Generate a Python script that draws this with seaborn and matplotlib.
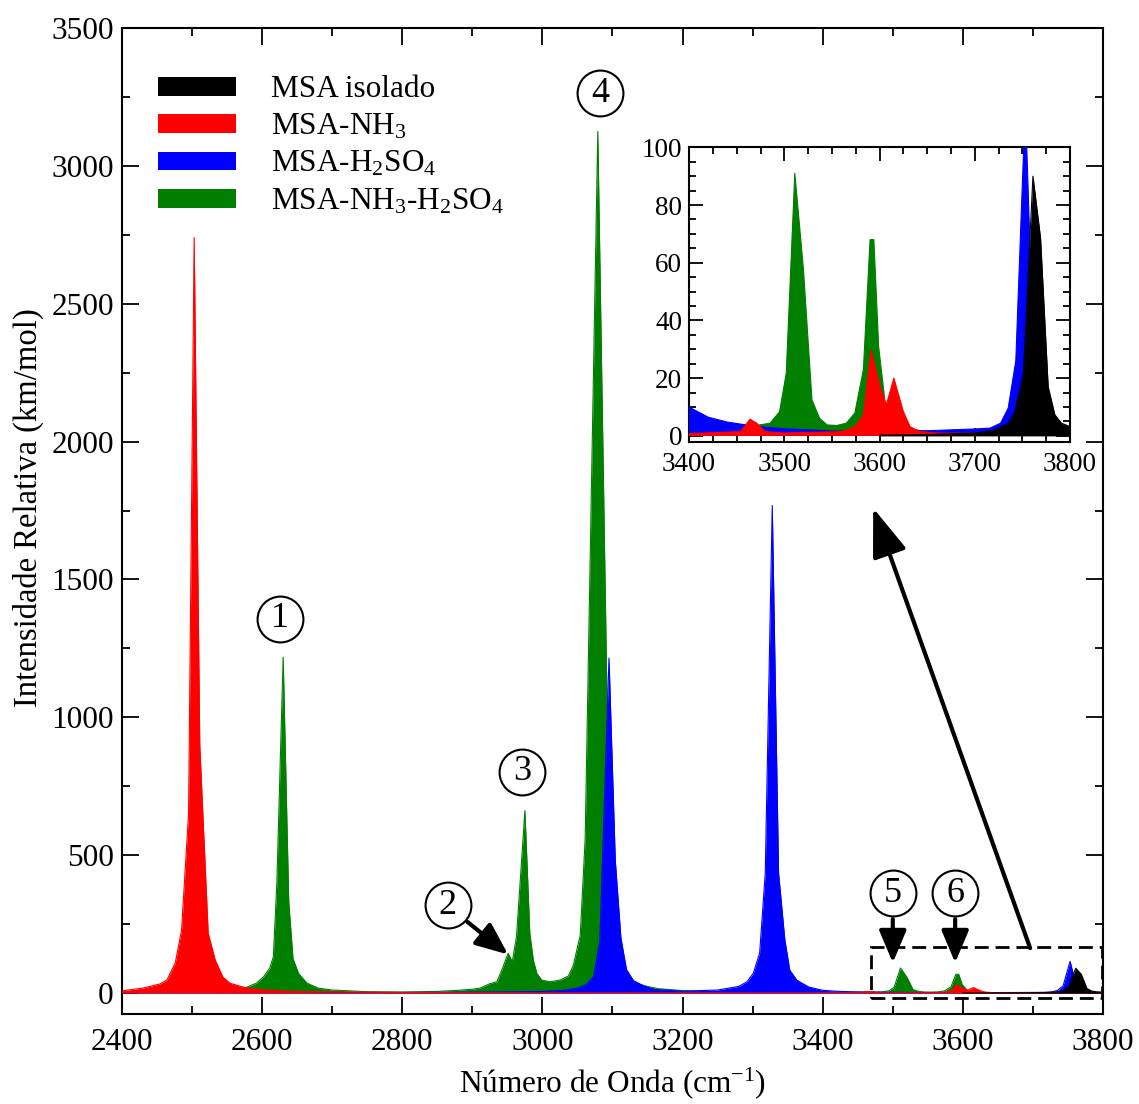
import matplotlib
matplotlib.use('Agg')
import matplotlib.pyplot as plt
from matplotlib.patches import Patch, Rectangle
from matplotlib.ticker import MultipleLocator
import seaborn as sns

# espectros (vértices): número de onda (cm-1) e intensidade (km/mol)
green_x = [2400, 2500, 2550, 2575, 2592, 2602, 2611, 2616, 2621, 2630, 2638, 2644, 2652, 2664, 2680,
           2700, 2750, 2800, 2850, 2880, 2900, 2911, 2925, 2935, 2942, 2951, 2957, 2963, 2975, 2982,
           2987, 2992, 2999, 3011, 3025, 3037, 3044, 3054, 3061, 3079, 3097, 3106, 3115, 3125, 3135,
           3150, 3165, 3200, 3250, 3300, 3350, 3400, 3450, 3470, 3485, 3495, 3502, 3511, 3520, 3529,
           3537, 3545, 3555, 3565, 3574, 3583, 3590, 3594, 3599, 3607, 3620, 3650, 3700, 3750, 3800]
green_y = [1, 4, 7, 18, 36, 59, 91, 132, 400, 1218, 330, 125, 71, 36, 18,
           11, 5, 4, 6, 10, 14, 18, 34, 41, 83, 144, 114, 204, 662, 216,
           120, 71, 47, 41, 47, 62, 100, 210, 560, 3125, 300, 140, 80, 50, 35,
           24, 16, 9, 5, 4, 3, 3, 3.2, 3.6, 4.4, 8.4, 21.7, 91, 58, 12.5,
           6.1, 3.8, 3.6, 4.4, 7.9, 23, 68, 68, 31, 8, 3, 1.5, 1.2, 1.2, 1]

blue_x = [2400, 2600, 2800, 2900, 2950, 3000, 3030, 3050, 3062, 3073, 3082, 3095, 3104, 3112, 3120,
          3130, 3145, 3160, 3200, 3250, 3280, 3292, 3301, 3310, 3318, 3328, 3337, 3346, 3353, 3363,
          3380, 3400, 3420, 3440, 3460, 3480, 3500, 3550, 3600, 3650, 3700, 3716, 3727, 3735, 3743,
          3753, 3761, 3770, 3780, 3800]
blue_y = [1, 1.5, 2, 3, 4, 6, 10, 18, 30, 59, 192, 1215, 480, 200, 85,
          45, 25, 13, 7, 11, 24, 41, 72, 145, 435, 1768, 435, 192, 83, 47,
          22, 10, 6.5, 4.8, 3.8, 3.0, 2.5, 1.7, 1.5, 1.8, 2.4, 2.7, 4.4, 9.6, 26,
          115, 35, 10, 4, 2]

red_x = [2400, 2430, 2454, 2464, 2476, 2485, 2495, 2503, 2511, 2523, 2533, 2544, 2554, 2575, 2600,
         2650, 2700, 2800, 3000, 3400, 3454, 3464, 3471, 3480, 3500, 3560, 3574, 3583, 3591, 3600,
         3607, 3615, 3625, 3632, 3642, 3660, 3800]
red_y = [8, 18, 33, 47, 109, 228, 650, 2740, 900, 217, 120, 58, 36, 20, 12,
         6, 4, 2, 1, 0.8, 1.5, 5.8, 4.4, 1.5, 1, 1.5, 3.2, 7.3, 29.8, 17.7,
         10.7, 20, 8.4, 3.2, 1.5, 1, 0.7]

black_x = [3600, 3650, 3700, 3720, 3735, 3742, 3751, 3761, 3769, 3777, 3784, 3791, 3800]
black_y = [0.3, 0.5, 1, 2, 4.4, 8.4, 21.7, 90, 68.5, 17, 7.3, 4.4, 3.2]

names = ['MSA isolado', r'MSA-NH$_3$', r'MSA-H$_2$SO$_4$', r'MSA-NH$_3$-H$_2$SO$_4$']
colors = ['#000000', '#ff0000', '#0000ff', '#007f00']

# ordem de desenho: verde, azul, vermelho, preto
series = [(green_x, green_y, colors[3]), (blue_x, blue_y, colors[2]),
          (red_x, red_y, colors[1]), (black_x, black_y, colors[0])]

# rótulos numerados (posição do círculo)
marks = ['1', '2', '3', '4', '5', '6']
mark_x = [2625, 2865, 2971, 3082, 3500, 3589]
mark_y = [1357, 319, 802, 3264, 362, 362]

sns.set_style('ticks')
plt.rcParams['font.family'] = ['Liberation Serif', 'DejaVu Serif']
plt.rcParams['mathtext.fontset'] = 'custom'
plt.rcParams['mathtext.rm'] = 'Liberation Serif'
plt.rcParams['mathtext.it'] = 'Liberation Serif:italic'
plt.rcParams['xtick.direction'] = 'in'
plt.rcParams['ytick.direction'] = 'in'
plt.rcParams['xtick.top'] = True
plt.rcParams['ytick.right'] = True
plt.rcParams['axes.linewidth'] = 1.5
plt.rcParams['text.color'] = 'black'
plt.rcParams['axes.labelcolor'] = 'black'
plt.rcParams['xtick.labelcolor'] = 'black'
plt.rcParams['ytick.labelcolor'] = 'black'


def draw_spectra(ax):
    for i, (x, y, c) in enumerate(series):
        ax.fill_between(x, y, 0, color=c, lw=0, zorder=2 + i)
        sns.lineplot(x=x, y=y, color=c, lw=0.8, ax=ax, zorder=2 + i, legend=False)


def style_ticks(ax, major_len, minor_len, size):
    ax.tick_params(which='major', length=major_len, width=1.3, labelsize=size, color='k')
    ax.tick_params(which='minor', length=minor_len, width=1.3, color='k')
    for s in ax.spines.values():
        s.set_color('k')
        s.set_linewidth(1.5)


fig = plt.figure(figsize=(11.39, 11.04), dpi=100)
ax = fig.add_axes([0.1071, 0.0815, 0.8613, 0.8931])
draw_spectra(ax)
ax.set_xlim(2400, 3800)
ax.set_ylim(-76, 3500)
ax.xaxis.set_major_locator(MultipleLocator(200))
ax.xaxis.set_minor_locator(MultipleLocator(100))
ax.yaxis.set_major_locator(MultipleLocator(500))
ax.yaxis.set_minor_locator(MultipleLocator(250))
style_ticks(ax, 12, 6, 22.5)
ax.tick_params(axis='x', pad=10)
ax.tick_params(axis='y', pad=6)
ax.set_xlabel(r'Número de Onda (cm$^{-1}$)', fontsize=22.5, labelpad=6)
ax.set_ylabel('Intensidade Relativa (km/mol)', fontsize=23.5)
ax.yaxis.set_label_coords(-0.08, 0.514)

# legenda
handles = [Patch(facecolor=c, edgecolor='none') for c in colors]
ax.legend(handles, names, loc='upper left', bbox_to_anchor=(0.037, 0.952), frameon=False,
          fontsize=22.5, handlelength=2.5, handleheight=0.55, handletextpad=1.12,
          labelspacing=0.25, borderaxespad=0, borderpad=0)

# círculos numerados
for s, x, y in zip(marks, mark_x, mark_y):
    ax.plot([x], [y], marker='o', ms=33, mfc='white', mec='k', mew=1.5, ls='none', zorder=20)
    ax.text(x, y, s, ha='center', va='center', fontsize=26, zorder=21)

arrow_small = dict(arrowstyle='-|>,head_length=0.9,head_width=0.38', color='k', lw=3,
                   mutation_scale=22, shrinkA=0, shrinkB=0)
ax.annotate('', xy=(2951, 140), xytext=(2893, 258), arrowprops=arrow_small, zorder=22)
ax.annotate('', xy=(3500, 110), xytext=(3500, 268), arrowprops=arrow_small, zorder=22)
ax.annotate('', xy=(3589, 110), xytext=(3589, 268), arrowprops=arrow_small, zorder=22)
ax.annotate('', xy=(3472, 1759), xytext=(3696, 163),
            arrowprops=dict(arrowstyle='-|>,head_length=1.0,head_width=0.36', color='k', lw=3,
                            mutation_scale=30, shrinkA=0, shrinkB=0), zorder=22)

ax.add_patch(Rectangle((3469, -19), 329, 185, fill=False, ec='k', lw=2,
                       ls=(0, (5, 2.5)), zorder=23, clip_on=False))

# inset
axi = fig.add_axes([0.605, 0.5994, 0.3345, 0.2672])
draw_spectra(axi)
axi.set_xlim(3400, 3800)
axi.set_ylim(-2.2, 100)
axi.xaxis.set_major_locator(MultipleLocator(100))
axi.xaxis.set_minor_locator(MultipleLocator(25))
axi.yaxis.set_major_locator(MultipleLocator(20))
axi.yaxis.set_minor_locator(MultipleLocator(5))
style_ticks(axi, 10, 5, 19.5)
axi.tick_params(axis='x', pad=7)
axi.tick_params(axis='y', pad=5)
axi.set_xlabel('')
axi.set_ylabel('')

fig.savefig('out.png', dpi=100)
